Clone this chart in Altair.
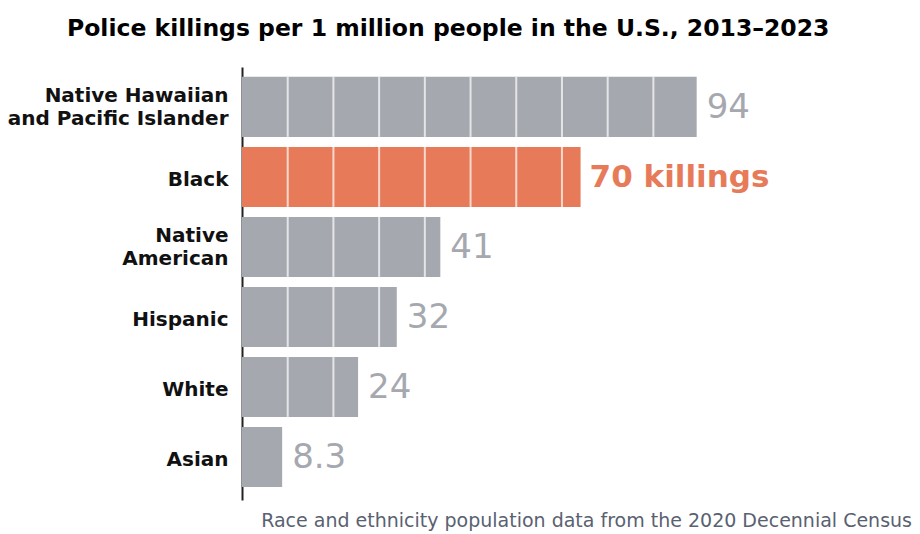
import altair as alt
import pandas as pd

groups = ["Native Hawaiian|and Pacific Islander", "Black", "Native|American", "Hispanic", "White", "Asian"]
values = [94, 70, 41, 32, 24, 8.3]
value_labels = ["94", "70 killings", "41", "32", "24", "8.3"]
highlight = [False, True, False, False, False, False]
grid_step = 9.45

df = pd.DataFrame({"group": groups, "value": values, "label": value_labels, "hl": highlight})
seg_rows = []
for g, v in zip(groups, values):
    k = 1
    while k * grid_step < v - 1:
        seg_rows.append({"group": g, "pos": k * grid_step})
        k += 1
seg = pd.DataFrame(seg_rows)

W, H = 670, 433
xscale = alt.Scale(domain=[0, W / 4.837], nice=False, zero=True)
yscale = alt.Scale(domain=groups, paddingInner=1 / 7, paddingOuter=0.164, align=0.43)

yaxis = alt.Axis(title=None, ticks=False, domainColor="#222222", domainWidth=2,
                 labelFont="DejaVu Sans", labelFontWeight="bold", labelFontSize=20, labelColor="#111111",
                 labelPadding=14, labelLineHeight=23, labelLimit=400,
                 labelOffset={"condition": {"test": "indexof(datum.value, '|') >= 0", "value": -10.5}, "value": 3},
                 labelExpr="split(datum.label, '|')")

base = alt.Chart(df)
bars = base.mark_bar().encode(
    x=alt.X("value:Q", scale=xscale, axis=None),
    y=alt.Y("group:N", scale=yscale, axis=yaxis, sort=groups),
    color=alt.Color("hl:N", scale=alt.Scale(domain=[False, True], range=["#a5a8af", "#e77b59"]), legend=None),
)
ticks = alt.Chart(seg).mark_tick(orient="vertical", thickness=2, size=60, color="white").encode(
    x=alt.X("pos:Q", scale=xscale),
    y=alt.Y("group:N", scale=yscale, sort=groups),
)
text_grey = base.transform_filter("!datum.hl").mark_text(
    align="left", baseline="middle", dx=10, dy=1, font="DejaVu Sans", fontSize=34, color="#a5a8af"
).encode(x=alt.X("value:Q", scale=xscale), y=alt.Y("group:N", scale=yscale, sort=groups), text="label:N")
text_hl = base.transform_filter("datum.hl").mark_text(
    align="left", baseline="middle", dx=9, dy=1, font="DejaVu Sans", fontSize=31, fontWeight="bold", color="#e77b59"
).encode(x=alt.X("value:Q", scale=xscale), y=alt.Y("group:N", scale=yscale, sort=groups), text="label:N")

footer = alt.Chart(pd.DataFrame({"t": ["Race and ethnicity population data from the 2020 Decennial Census"]})).mark_text(
    align="right", baseline="alphabetic", font="DejaVu Sans", fontSize=19, color="#596171"
).encode(x=alt.value(W), y=alt.value(460), text="t:N")

chart = alt.layer(bars, ticks, text_grey, text_hl, footer).properties(
    width=W, height=H,
    autosize=alt.AutoSizeParams(type="none"),
    padding={"left": 234, "top": 59, "right": 0, "bottom": 34},
    title=alt.TitleParams(
        "Police killings per 1 million people in the U.S., 2013–2023",
        anchor="start", frame="group", dx=-175, offset=27, font="DejaVu Sans", fontSize=23.5, fontWeight="bold", color="#000000",
    ),
).configure_view(stroke=None)

chart.save("out.html", embed_options={"renderer": "svg", "actions": False})
